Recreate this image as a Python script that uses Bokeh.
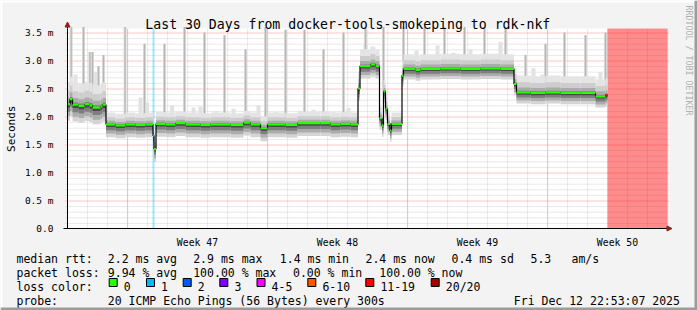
import numpy as np
from bokeh.plotting import figure
from bokeh.models import (Label, BoxAnnotation, Arrow, NormalHead, FixedTicker,
                          CustomJSTickFormatter, Range1d)
from bokeh.embed import file_html
from bokeh.resources import INLINE

# ---------------- data ----------------
title_text = "Last 30 Days from docker-tools-smokeping to rdk-nkf"
y_axis_title = "Seconds"
watermark = "RRDTOOL / TOBI OETIKER"

y_ticks = [0.0, 0.5, 1.0, 1.5, 2.0, 2.5, 3.0, 3.5]
y_tick_labels = ["0.0", "0.5 m", "1.0 m", "1.5 m", "2.0 m", "2.5 m", "3.0 m", "3.5 m"]
week_center_day = [6.5, 13.5, 20.5, 27.5]
week_labels = ["Week 47", "Week 48", "Week 49", "Week 50"]
week_start_day = [2.98, 9.98, 16.98, 23.98]
day_line_day = [0.98 + k for k in range(30)]

# median rtt (ms), step series: value holds from median_day[i] to median_day[i+1]
median_day = [0.0, 0.125, 0.25, 0.55, 0.85, 1.1, 1.25, 1.65, 1.75, 1.925, 2.4, 2.9, 3.4, 3.9,
              4.275, 4.325, 4.425, 4.9, 5.4, 5.9, 6.65, 7.15, 8.15, 8.8, 9.15, 9.65, 10.0, 10.9,
              11.5, 12.65, 13.15, 13.65, 14.15, 14.525, 14.625, 15.15, 15.4, 15.6, 15.725, 15.8,
              15.9, 16.0, 16.125, 16.2, 16.725, 16.8, 17.4, 17.65, 18.65, 19.65, 20.65, 21.65,
              22.325, 22.45, 23.15, 23.9, 24.65, 25.65, 26.4, 26.9]
median_ms = [2.22, 2.31, 2.21, 2.19, 2.22, 2.20, 2.16, 2.18, 2.21, 1.86, 1.84, 1.86, 1.85, 1.86,
             1.66, 1.42, 1.87, 1.86, 1.88, 1.86, 1.85, 1.86, 1.85, 1.89, 1.86, 1.79, 1.86, 1.85,
             1.88, 1.88, 1.86, 1.87, 1.86, 2.50, 2.90, 2.93, 2.90, 1.97, 1.84, 2.45,
             2.14, 1.87, 1.75, 1.87, 2.73, 2.85, 2.83, 2.85, 2.86, 2.85, 2.86, 2.85,
             2.58, 2.43, 2.42, 2.43, 2.42, 2.42, 2.36, 2.38]
median_loss = [0] * 14 + [1] + [0] * 44 + [15]
data_end_day = 27.0
unknown_start_day, unknown_end_day = 27.0, 30.0

# smoke spread around the median, per regime (ms)
regime_start_day = [0.0, 1.925, 14.525, 15.6, 16.725, 22.325]
smoke_below_ms = [0.30, 0.23, 0.22, 0.20, 0.19, 0.20]
smoke_above_ms = [0.40, 0.21, 0.30, 0.20, 0.26, 0.30]

# tall outlier spikes (day, top in ms)
spike_day = [0.185, 0.8, 1.12, 1.25, 1.55, 1.8, 2.88, 3.85, 4.85, 5.85, 6.85, 7.85, 8.9, 9.9,
             10.9, 11.85, 12.8, 13.8, 14.9, 15.8, 16.8, 17.85, 18.85, 19.85, 20.85, 21.9,
             22.9, 23.9, 24.85, 25.9, 26.9]
spike_top_ms = [3.6, 3.6, 3.15, 3.15, 2.9, 3.1, 3.6, 3.3, 3.3, 3.6, 3.5, 3.45, 3.2, 3.6,
                3.55, 3.55, 3.2, 3.5, 3.6, 3.6, 3.6, 3.6, 3.6, 3.6, 3.6, 3.6,
                3.1, 3.3, 3.5, 3.45, 3.5]
# smaller outlier bursts (day, top in ms)
burst_day = [0.4, 1.4, 3.65, 3.98, 5.23, 6.3, 6.65, 7.45, 8.3, 9.55, 10.45, 11.65, 12.3, 13.3,
             14.05, 14.9, 15.25, 17.45, 18.5, 19.3, 20.15, 20.55, 21.65, 23.3, 23.75, 25.4,
             25.9, 26.65]
burst_top_ms = [2.75, 2.8, 2.34, 2.25, 2.2, 2.16, 2.18, 2.1, 2.14, 2.2, 2.08, 2.1, 2.12, 2.08,
                2.15, 3.3, 3.25, 3.18, 3.27, 3.14, 3.2, 3.1, 3.33, 2.86, 2.75, 2.7,
                2.72, 2.79]

loss_bin_max = [0, 1, 2, 3, 5, 10, 19, 20]
loss_bin_labels = ["0", "1", "2", "3", "4-5", "6-10", "11-19", "20/20"]
loss_bin_colors = ["#26ff00", "#00b8ff", "#0059ff", "#7e00ff", "#ff00ff", "#ff5500", "#ff0000", "#a10000"]

legend_rows = [
    ["median rtt:", "2.2 ms avg", "2.9 ms max", "1.4 ms min", "2.4 ms now", "0.4 ms sd", "5.3", "am/s"],
    ["packet loss:", "9.94 % avg", "100.00 % max", "0.00 % min", "100.00 % now"],
    ["probe:", "20 ICMP Echo Pings (56 Bytes) every 300s", "Fri Dec 12 22:53:07 2025"],
]
loss_color_title = "loss color:"

# ---------------- layout ----------------
W, H = 697, 310
FL, FR, FT, FB = 67, 667, 28, 228     # plot area in canvas pixels
PX_PER_DAY = (FR - FL) / 30.0
PX_PER_MS = 56.0
YMAX = (FB - FT) / PX_PER_MS
MONO = "DejaVu Sans Mono"


def cx(xp):
    return (xp - FL) / PX_PER_DAY


def cy(yp):
    return (FB - yp) / PX_PER_MS


def loss_color(n):
    for mx, c in zip(loss_bin_max, loss_bin_colors):
        if n <= mx:
            return c
    return loss_bin_colors[-1]


p = figure(width=W, height=H, x_range=Range1d(cx(0), cx(W)), y_range=Range1d(cy(H), cy(0)),
           output_backend="svg", toolbar_location=None, title=None, min_border=0)
p.background_fill_color = "#f3f3f3"
p.border_fill_color = "#f3f3f3"
p.outline_line_color = None
for g in p.grid:
    g.visible = False

# plot canvas
p.quad(left=[0], right=[30], bottom=[0], top=[YMAX], fill_color="#ffffff", line_color=None)

# grid lines (dotted), half-pixel aligned
hx = 0.5 / PX_PER_DAY
hy = 0.5 / PX_PER_MS
minor_y = [round(0.1 * k, 2) for k in range(1, 36) if k % 5 != 0]
gx = np.array(day_line_day) + hx
p.segment(x0=gx, y0=0, x1=gx, y1=YMAX, line_color="#d2d2d2", line_dash="1 1", line_width=1)
gy = np.array(minor_y) - hy
p.segment(x0=cx(FL - 2), y0=gy, x1=cx(FR + 2), y1=gy, line_color="#d2d2d2", line_dash="1 1", line_width=1)
gx = np.array(week_start_day) + hx
p.segment(x0=gx, y0=0, x1=gx, y1=YMAX, line_color="#ff8c8c", line_dash="1 1", line_width=1)
gy = np.array(y_ticks[1:]) - hy
p.segment(x0=cx(FL - 2), y0=gy, x1=cx(FR + 2), y1=gy, line_color="#ff8c8c", line_dash="1 1", line_width=1)

# axes (fixed at the plot-area edges)
p.yaxis.fixed_location = 0
p.yaxis.bounds = (0, YMAX)
p.xaxis.fixed_location = 0
p.xaxis.bounds = (cx(FL - 4), 30)
p.yaxis.ticker = FixedTicker(ticks=y_ticks, minor_ticks=[])
p.yaxis.formatter = CustomJSTickFormatter(args=dict(t=y_ticks, l=y_tick_labels), code="""
    for (let i = 0; i < t.length; i++) { if (Math.abs(t[i] - tick) < 1e-6) return l[i]; }
    return '';""")
p.xaxis.ticker = FixedTicker(ticks=week_center_day, minor_ticks=[])
p.xaxis.formatter = CustomJSTickFormatter(args=dict(t=week_center_day, l=week_labels), code="""
    for (let i = 0; i < t.length; i++) { if (Math.abs(t[i] - tick) < 1e-6) return l[i]; }
    return '';""")
for ax in (p.xaxis[0], p.yaxis[0]):
    ax.axis_line_color = "#000000"
    ax.major_label_text_font = MONO
    ax.major_label_text_color = "#000000"
    ax.minor_tick_line_color = None
p.yaxis.major_label_text_font_size = "9.5px"
p.xaxis.major_label_text_font_size = "9.8px"
p.yaxis.major_tick_line_color = None
p.yaxis.major_label_standoff = 8
p.xaxis.major_tick_line_color = None
p.xaxis.major_label_standoff = 2

# unknown (no data) region
p.quad(left=[unknown_start_day], right=[unknown_end_day], bottom=[0], top=[YMAX],
       fill_color="#ff0000", fill_alpha=0.45, line_color=None)

md = np.array(median_day + [data_end_day])
mv = np.array(median_ms)
ml = np.array(median_loss)

# loss background bars
lossy = np.where((ml > 0) & (ml < 11))[0]
p.vbar(x=(md[lossy] + md[lossy + 1]) / 2, width=0.1, bottom=0, top=YMAX,
       fill_color=[loss_color(ml[i]) for i in lossy], fill_alpha=0.36, line_color=None)


def median_at(days):
    idx = np.clip(np.searchsorted(md, np.array(days), side="right") - 1, 0, len(mv) - 1)
    return mv[idx]


# outlier bursts and spikes
bd = np.array(burst_day)
p.vbar(x=bd, width=0.2, bottom=median_at(bd), top=burst_top_ms, fill_color="#e2e2e2", line_color=None)
sd = np.array(spike_day)
p.vbar(x=sd, width=0.15, bottom=median_at(sd), top=spike_top_ms, fill_color="#d8d8d8", line_color=None)
p.vbar(x=sd, width=0.055, bottom=median_at(sd), top=spike_top_ms, fill_color="#b6b6b6", line_color=None)

# smoke
reg_idx = np.searchsorted(np.array(regime_start_day), np.array(median_day), side="right") - 1
left, right = md[:-1], md[1:]
dn = np.array(smoke_below_ms)[reg_idx]
up = np.array(smoke_above_ms)[reg_idx]
for f, col in [(1.0, "#e4e4e4"), (0.6, "#cdcdcd"), (0.3, "#ababab"), (0.1, "#828282")]:
    p.quad(left=left, right=right, bottom=mv, top=mv + f * up, fill_color=col, line_color=None)
for f, col in [(1.0, "#d4d4d4"), (0.72, "#acacac"), (0.45, "#7e7e7e"), (0.2, "#4a4a4a")]:
    p.quad(left=left, right=right, bottom=mv - f * dn, top=mv, fill_color=col, line_color=None)

# median line: black steps, coloured horizontal pieces
p.step(x=md, y=np.append(mv, mv[-1]), mode="after", line_color="#000000", line_width=1.2)
p.segment(x0=left, y0=mv, x1=right, y1=mv, line_color=[loss_color(v) for v in ml], line_width=2.2)

# axis arrows
p.add_layout(Arrow(end=NormalHead(size=5, fill_color="#9b1c1c", line_color="#9b1c1c"),
                   x_start=0, y_start=YMAX, x_end=0, y_end=cy(21.5),
                   line_color="#000000", line_width=1))
p.add_layout(Arrow(end=NormalHead(size=5, fill_color="#9b1c1c", line_color="#9b1c1c"),
                   x_start=30, y_start=0, x_end=cx(671.5), y_end=0,
                   line_color="#000000", line_width=1))


def label(xp, yp, text, size, color="#000000", align="left", baseline="alphabetic", angle=0.0):
    p.add_layout(Label(x=cx(xp), y=cy(yp), text=text, text_font=MONO, text_font_size=f"{size}px",
                       text_color=color, text_align=align, text_baseline=baseline, angle=angle))


label(347.3, 24, title_text, 13.2, align="center")
label(11, 128.3, y_axis_title, 11, align="center", baseline="middle", angle=np.pi / 2)
label(688.7, 5, watermark, 8.3, color="#b0b0b0", align="left", baseline="middle", angle=-np.pi / 2)

row_x = [[16, 107.3, 192.7, 279.3, 365, 451, 530, 571],
         [16, 107.3, 192.7, 292.5, 378.8],
         [16, 107.3, 513.3]]
row_base = [258.3, 272, 300]
for xs, texts, yb in zip(row_x, legend_rows, row_base):
    for xp, t in zip(xs, texts):
        label(xp, yb, t, 11.5)

label(16, 286, loss_color_title, 11.5)
box_x = [108.7, 146, 182.7, 219.3, 256.5, 307.3, 365.3, 430.7]
for bx, c, t in zip(box_x, loss_bin_colors, loss_bin_labels):
    p.add_layout(BoxAnnotation(left=cx(bx), right=cx(bx + 8), top=cy(278), bottom=cy(286),
                               fill_color=c, fill_alpha=1, line_color="#000000", line_width=1,
                               line_alpha=1))
    label(bx + 14.6, 286, t, 11.5)

# canvas edge shading
for l_, r_, t_, b_, c in [(0, W, 0, 2, "#ffffff"), (0, 2, 0, H, "#ffffff"),
                          (W - 3, W, 0, H, "#9c9c9c"), (0, W, H - 3, H, "#9c9c9c")]:
    p.add_layout(BoxAnnotation(left=cx(l_), right=cx(r_), top=cy(t_), bottom=cy(b_),
                               fill_color=c, fill_alpha=1, line_color=None))

open("out.html", "w").write(file_html(p, INLINE))
